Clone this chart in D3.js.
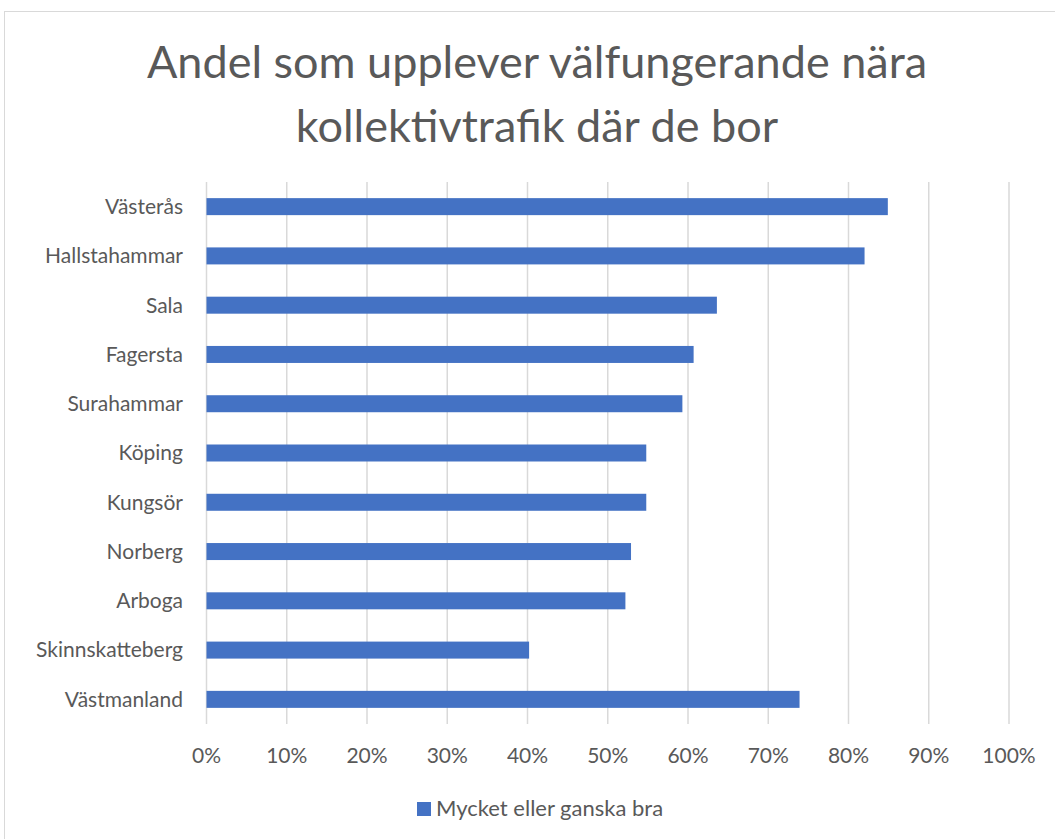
<!DOCTYPE html>
<html><head><meta charset="utf-8">
<script src="https://cdn.jsdelivr.net/npm/d3@7"></script>
<style>body{margin:0;background:#fff;} svg{display:block;}</style>
</head><body>
<script>
const categories = ["Västerås","Hallstahammar","Sala","Fagersta","Surahammar","Köping","Kungsör","Norberg","Arboga","Skinnskatteberg","Västmanland"];
const values = [0.849,0.820,0.636,0.607,0.593,0.548,0.548,0.529,0.522,0.402,0.739];
const tickValues = [0,0.1,0.2,0.3,0.4,0.5,0.6,0.7,0.8,0.9,1.0];
const titleLines = ["Andel som upplever välfungerande nära","kollektivtrafik där de bor"];
const seriesName = "Mycket eller ganska bra";

const W=1055,H=839;
const font="Lato, 'Open Sans', sans-serif";
const svg=d3.select("body").append("svg").attr("width",W).attr("height",H);
svg.append("rect").attr("x",4.5).attr("y",11.5).attr("width",W+10).attr("height",H-8).attr("fill","#fff").attr("stroke","#d9d9d9");

const x=d3.scaleLinear().domain([0,1]).range([206.5,1009]);
const y=d3.scaleBand().domain(categories).range([182,724]).paddingInner(0.655).paddingOuter(0.3275);

svg.selectAll("text.title").data(titleLines).join("text").attr("class","title")
 .attr("x",537).attr("y",(d,i)=>78+i*64).attr("text-anchor","middle")
 .attr("font-family",font).attr("font-size",45).attr("fill","#595959").text(d=>d);

svg.append("g").selectAll("line").data(tickValues).join("line")
 .attr("x1",d=>x(d)).attr("x2",d=>x(d)).attr("y1",182).attr("y2",724)
 .attr("stroke","#d9d9d9").attr("stroke-width",1.5);

svg.append("g").selectAll("rect").data(values).join("rect")
 .attr("x",x(0)).attr("y",(d,i)=>y(categories[i])).attr("width",d=>x(d)-x(0)).attr("height",y.bandwidth())
 .attr("fill","#4472C4");

svg.append("g").selectAll("text").data(categories).join("text")
 .attr("x",183).attr("y",d=>y(d)+y.bandwidth()/2).attr("dy","0.35em").attr("text-anchor","end")
 .attr("font-family",font).attr("font-size",21).attr("fill","#595959").text(d=>d);

svg.append("g").selectAll("text").data(tickValues).join("text")
 .attr("x",d=>x(d)).attr("y",756).attr("dy","0.35em").attr("text-anchor","middle")
 .attr("font-family",font).attr("font-size",21).attr("fill","#595959").text(d=>d3.format(".0%")(d));

svg.append("rect").attr("x",417).attr("y",802).attr("width",14).attr("height",14).attr("fill","#4472C4");
svg.append("text").attr("x",436).attr("y",808).attr("dy","0.35em").attr("font-family",font).attr("font-size",22).attr("fill","#595959").text(seriesName);
</script>
</body></html>
